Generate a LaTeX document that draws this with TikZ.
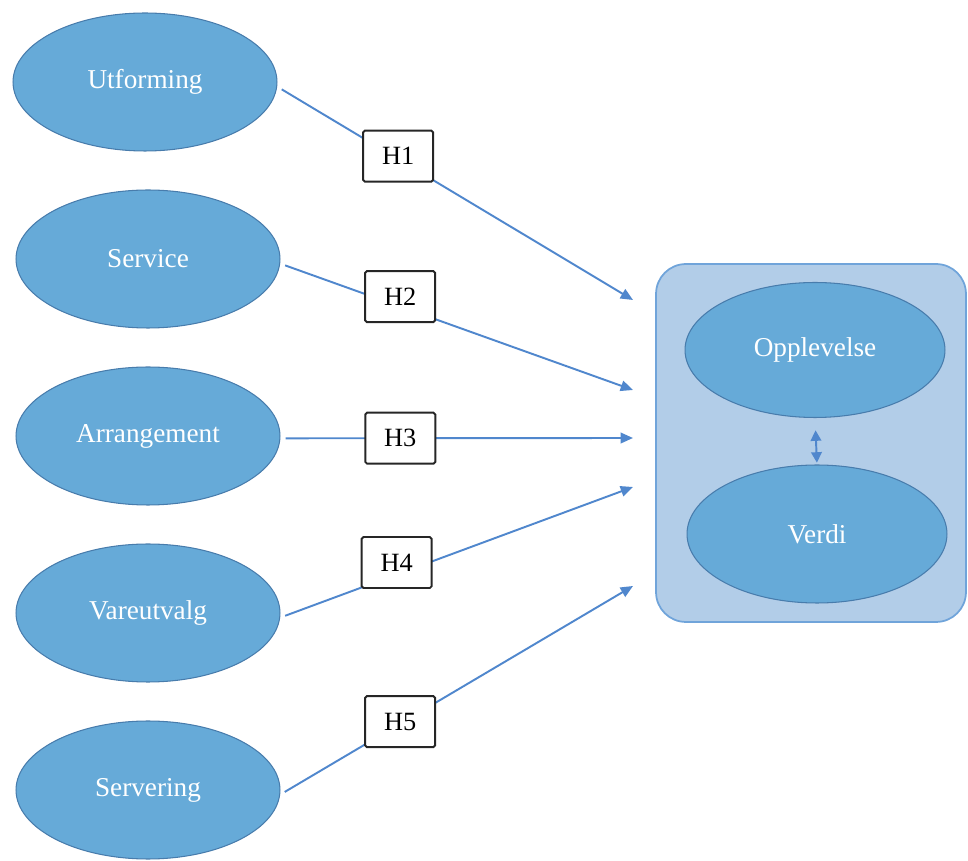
\documentclass[tikz,border=0pt]{standalone}
\usepackage{fontspec}
\setmainfont{Liberation Serif}
\usetikzlibrary{arrows.meta, shapes.geometric}
\usetikzlibrary{positioning}
\definecolor{ovalblue}{RGB}{102,170,216}
\definecolor{ovalline}{RGB}{72,124,172}
\definecolor{groupfill}{RGB}{178,205,232}
\definecolor{groupline}{RGB}{112,164,218}
\definecolor{arrowblue}{RGB}{80,135,205}

\begin{document}
\begin{tikzpicture}[x=0.02cm, y=-0.02cm,
		oval/.style={ellipse, draw=ovalline, line width=0.6pt, fill=ovalblue, text=white,
			minimum width=5.28cm, minimum height=2.76cm, font=\fontsize{15.5}{18}\selectfont},
		hyp/.style={draw=black!85, line width=1.1pt, fill=white, rounded corners=1pt,
			minimum width=1.4cm, minimum height=1.02cm, font=\fontsize{15}{18}\selectfont},
		link/.style={draw=arrowblue, line width=1.1pt, shorten <=3pt, -{Triangle[length=7pt,width=6pt]}}]
		\useasboundingbox (0,0) rectangle (968,861);
		
		\begin{scope}
			\node[oval] (utforming) at (145,82) {Utforming};
			\node[oval] (service) at (148,259) {Service};
			\node[oval] (arrangement) at (148,436) {Arrangement};
			\node[oval] (vareutvalg) at (148,613) {Vareutvalg};
			\node[oval] (servering) at (148,790) {Servering};
		\end{scope}
		
		\begin{scope}
			\node[draw=groupline, line width=1pt, fill=groupfill, rounded corners=17pt,
				minimum width=6.2cm, minimum height=7.16cm] (group) at (811,443) {};
			\node[oval, minimum width=5.2cm, minimum height=2.7cm] (opplevelse) at (815,350) {Opplevelse};
			\node[oval, minimum width=5.2cm, minimum height=2.76cm] (verdi) at (817,534) {Verdi};
			\draw[draw=arrowblue, line width=1.1pt, shorten <=7pt, shorten >=1pt,
				{Triangle[length=6pt,width=6pt]}-{Triangle[length=6pt,width=6pt]}] (opplevelse.south) -- (verdi.north);
		\end{scope}
		
		\coordinate (tip1) at (633,300);
		\coordinate (tip2) at (633,390);
		\coordinate (tip3) at (633,438);
		\coordinate (tip4) at (633,487);
		\coordinate (tip5) at (633,586);
		
		\draw[link] (utforming.-2) -- node[hyp, pos=0.34, yshift=0.06cm] (h1) {H1} (tip1);
		\draw[link] (service.-2) -- node[hyp, pos=0.34, yshift=0.2cm] (h2) {H2} (tip2);
		\draw[link] (arrangement.-1) -- node[hyp, pos=0.34] (h3) {H3} (tip3);
		\draw[link] (vareutvalg.-2) -- node[hyp, pos=0.33, yshift=0.24cm] (h4) {H4} (tip4);
		\draw[link] (servering.-2) -- node[hyp, pos=0.34, yshift=0.04cm] (h5) {H5} (tip5);
	\end{tikzpicture}
\end{document}
